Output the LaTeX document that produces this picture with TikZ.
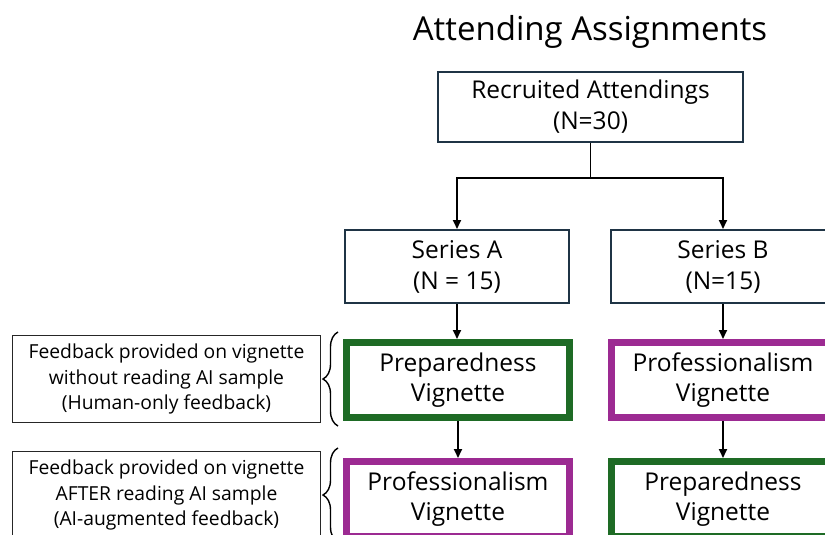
\documentclass[tikz,border=0pt]{standalone}
\usepackage{fontspec}
\setmainfont[Ligatures=NoCommon]{Open Sans}
\usetikzlibrary{arrows.meta,decorations.pathreplacing}
\definecolor{navy}{HTML}{1F3445}
\definecolor{vgreen}{HTML}{1E6B25}
\definecolor{vpurple}{HTML}{9C2A92}
\begin{document}
\begin{tikzpicture}[x=1pt,y=-1pt,
  thinbox/.style={draw=navy, line width=2pt, minimum width=224pt, minimum height=73pt, inner sep=0pt, align=center, font=\fontsize{24.5}{31}\selectfont},
  vig/.style={line width=7pt, minimum width=223pt, minimum height=75pt, inner sep=0pt, align=center, font=\fontsize{24.5}{30.5}\selectfont},
  notebox/.style={draw=black!85, line width=1.2pt, minimum width=308pt, minimum height=87pt, inner sep=0pt, align=center, font=\fontsize{19.3}{25.5}\selectfont},
  arr/.style={-{Triangle[length=9pt,width=8pt]}, line width=1.8pt},
  bracestyle/.style={decorate, decoration={brace, amplitude=15pt}, line width=1.4pt}]
\useasboundingbox (0,0) rectangle (825,535);
\clip (0,0) rectangle (825,535);

\node[font=\fontsize{33}{38}\selectfont] (title) at (590,32) {Attending Assignments};
\node[thinbox, minimum width=305pt, minimum height=69pt] (rec) at (590.5,107) {Recruited Attendings\\(N=30)};
\node[thinbox] (A) at (457,266.5) {Series A\\(N = 15)};
\node[thinbox] (B) at (723,266.5) {Series B\\(N=15)};
\node[vig, draw=vgreen] (prepA) at (458,380) {Preparedness\\Vignette};
\node[vig, draw=vpurple] (profA) at (458,499) {Professionalism\\Vignette};
\node[vig, draw=vpurple] (profB) at (723,380) {Professionalism\\Vignette};
\node[vig, draw=vgreen] (prepB) at (723,499) {Preparedness\\Vignette};
\node[notebox] (note1) at (166.5,379) {Feedback provided on vignette\\without reading AI sample\\(Human-only feedback)};
\node[notebox] (note2) at (166.5,495) {Feedback provided on vignette\\AFTER reading AI sample\\(AI-augmented feedback)};

\draw[line width=1.8pt] (rec.south) -- (rec.south |- 0,178) coordinate (split);
\draw[arr] (split) -| (A.north);
\draw[arr] (split) -| (B.north);
\draw[arr] (A.south) -- (A.south |- prepA.north);
\draw[arr] (prepA.south) -- (prepA.south |- profA.north);
\draw[arr] (B.south) -- (B.south |- profB.north);
\draw[arr] (profB.south) -- (profB.south |- prepB.north);

\coordinate (b1s) at (338,426);
\coordinate (b1e) at (338,332);
\coordinate (b2s) at (338,542);
\coordinate (b2e) at (338,448);
\draw[bracestyle] (b1s) -- (b1e);
\draw[bracestyle] (b2s) -- (b2e);
\end{tikzpicture}
\end{document}
